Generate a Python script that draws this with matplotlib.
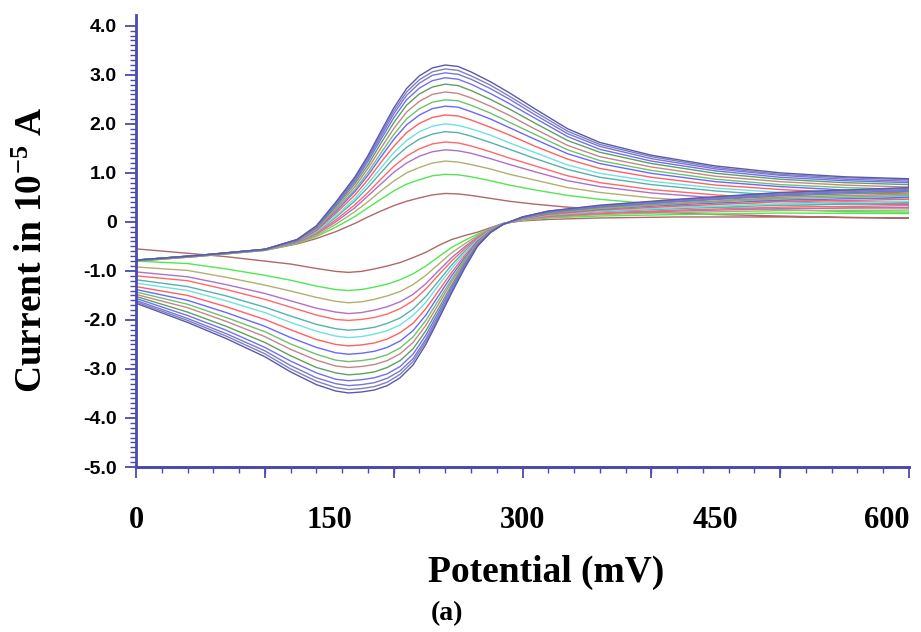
import matplotlib
matplotlib.use("Agg")
import matplotlib.pyplot as plt

plt.rcParams["mathtext.default"] = "regular"

# potential grids (mV) for the forward (anodic) and reverse (cathodic) sweeps
potential_fwd = [0, 50, 100, 125, 140, 155, 170, 180, 190, 200, 210, 220, 230, 240, 250,
                 260, 275, 290, 310, 335, 360, 400, 450, 500, 550, 600]
potential_rev = [600, 500, 420, 360, 320, 300, 285, 275, 265, 255, 245, 235, 225, 215, 205,
                 195, 185, 175, 165, 155, 140, 120, 100, 70, 40, 0]

# current (1e-5 A), one row per scan, slowest scan first
current_fwd = [
    [-0.80, -0.70, -0.58, -0.45, -0.34, -0.20, -0.03, 0.10, 0.22, 0.33, 0.42, 0.49, 0.55, 0.58, 0.57, 0.54, 0.48, 0.42, 0.36, 0.30, 0.26, 0.20, 0.15, 0.12, 0.09, 0.08],
    [-0.80, -0.70, -0.58, -0.44, -0.30, -0.11, 0.11, 0.29, 0.46, 0.63, 0.77, 0.86, 0.94, 0.97, 0.96, 0.92, 0.84, 0.75, 0.65, 0.54, 0.46, 0.37, 0.30, 0.25, 0.21, 0.20],
    [-0.80, -0.70, -0.58, -0.43, -0.28, -0.05, 0.21, 0.41, 0.63, 0.83, 1.00, 1.11, 1.20, 1.24, 1.22, 1.17, 1.08, 0.97, 0.85, 0.70, 0.60, 0.49, 0.40, 0.34, 0.30, 0.28],
    [-0.79, -0.69, -0.57, -0.42, -0.25, 0.00, 0.29, 0.53, 0.77, 1.01, 1.20, 1.34, 1.43, 1.47, 1.45, 1.40, 1.29, 1.17, 1.02, 0.84, 0.72, 0.59, 0.49, 0.42, 0.37, 0.35],
    [-0.79, -0.69, -0.57, -0.41, -0.24, 0.04, 0.35, 0.60, 0.87, 1.13, 1.34, 1.49, 1.59, 1.63, 1.61, 1.55, 1.43, 1.30, 1.14, 0.94, 0.80, 0.66, 0.55, 0.47, 0.42, 0.40],
    [-0.79, -0.69, -0.57, -0.41, -0.22, 0.09, 0.43, 0.70, 1.00, 1.29, 1.52, 1.69, 1.79, 1.84, 1.82, 1.75, 1.62, 1.48, 1.29, 1.07, 0.91, 0.76, 0.63, 0.54, 0.49, 0.46],
    [-0.79, -0.69, -0.57, -0.40, -0.20, 0.12, 0.48, 0.78, 1.10, 1.41, 1.66, 1.84, 1.95, 2.00, 1.97, 1.90, 1.77, 1.61, 1.41, 1.16, 0.99, 0.83, 0.69, 0.60, 0.54, 0.51],
    [-0.79, -0.69, -0.57, -0.40, -0.18, 0.17, 0.55, 0.86, 1.21, 1.54, 1.82, 2.01, 2.13, 2.18, 2.16, 2.08, 1.93, 1.77, 1.54, 1.28, 1.09, 0.91, 0.75, 0.66, 0.60, 0.57],
    [-0.79, -0.69, -0.57, -0.39, -0.16, 0.21, 0.62, 0.95, 1.32, 1.68, 1.98, 2.18, 2.31, 2.36, 2.34, 2.25, 2.10, 1.92, 1.68, 1.39, 1.19, 0.99, 0.82, 0.72, 0.65, 0.62],
    [-0.79, -0.69, -0.57, -0.38, -0.15, 0.24, 0.66, 1.01, 1.40, 1.78, 2.10, 2.31, 2.44, 2.49, 2.47, 2.38, 2.22, 2.03, 1.78, 1.47, 1.25, 1.05, 0.87, 0.76, 0.70, 0.66],
    [-0.78, -0.68, -0.56, -0.38, -0.14, 0.27, 0.72, 1.09, 1.50, 1.90, 2.24, 2.46, 2.60, 2.65, 2.62, 2.53, 2.36, 2.17, 1.89, 1.56, 1.33, 1.12, 0.93, 0.82, 0.75, 0.71],
    [-0.78, -0.68, -0.56, -0.37, -0.12, 0.31, 0.78, 1.16, 1.60, 2.02, 2.38, 2.61, 2.75, 2.81, 2.78, 2.68, 2.50, 2.30, 2.01, 1.66, 1.42, 1.19, 0.99, 0.87, 0.80, 0.76],
    [-0.78, -0.68, -0.56, -0.37, -0.11, 0.34, 0.83, 1.23, 1.68, 2.12, 2.49, 2.73, 2.88, 2.94, 2.91, 2.81, 2.62, 2.41, 2.11, 1.74, 1.48, 1.24, 1.04, 0.91, 0.84, 0.80],
    [-0.78, -0.68, -0.56, -0.37, -0.10, 0.36, 0.86, 1.28, 1.74, 2.20, 2.58, 2.83, 2.99, 3.04, 3.01, 2.91, 2.72, 2.50, 2.18, 1.80, 1.54, 1.29, 1.08, 0.95, 0.87, 0.83],
    [-0.78, -0.68, -0.56, -0.36, -0.09, 0.38, 0.89, 1.31, 1.79, 2.26, 2.65, 2.90, 3.06, 3.12, 3.09, 2.98, 2.79, 2.56, 2.24, 1.85, 1.58, 1.33, 1.11, 0.97, 0.90, 0.86],
    [-0.78, -0.68, -0.56, -0.36, -0.08, 0.40, 0.92, 1.35, 1.84, 2.32, 2.72, 2.98, 3.14, 3.20, 3.17, 3.06, 2.86, 2.63, 2.30, 1.90, 1.62, 1.36, 1.14, 1.00, 0.92, 0.88],
]

current_rev = [
    [0.08, 0.10, 0.10, 0.08, 0.05, 0.02, -0.03, -0.12, -0.21, -0.28, -0.36, -0.48, -0.62, -0.73, -0.83, -0.90, -0.96, -1.01, -1.03, -1.01, -0.95, -0.86, -0.80, -0.71, -0.64, -0.55],
    [0.17, 0.18, 0.15, 0.12, 0.08, 0.03, -0.03, -0.14, -0.25, -0.38, -0.52, -0.71, -0.90, -1.06, -1.18, -1.27, -1.33, -1.38, -1.40, -1.38, -1.31, -1.19, -1.09, -0.96, -0.85, -0.80],
    [0.24, 0.23, 0.19, 0.15, 0.09, 0.04, -0.04, -0.15, -0.28, -0.45, -0.63, -0.86, -1.09, -1.28, -1.42, -1.51, -1.58, -1.63, -1.65, -1.62, -1.54, -1.41, -1.29, -1.13, -0.99, -0.92],
    [0.29, 0.27, 0.22, 0.17, 0.11, 0.05, -0.04, -0.15, -0.31, -0.51, -0.73, -0.99, -1.26, -1.48, -1.63, -1.73, -1.80, -1.85, -1.87, -1.84, -1.76, -1.61, -1.46, -1.28, -1.12, -1.02],
    [0.33, 0.30, 0.24, 0.18, 0.12, 0.05, -0.04, -0.16, -0.33, -0.55, -0.80, -1.08, -1.37, -1.61, -1.77, -1.88, -1.95, -1.99, -2.01, -1.99, -1.90, -1.74, -1.58, -1.38, -1.20, -1.10],
    [0.38, 0.34, 0.27, 0.21, 0.13, 0.06, -0.04, -0.17, -0.35, -0.60, -0.88, -1.20, -1.52, -1.78, -1.96, -2.07, -2.15, -2.19, -2.21, -2.18, -2.09, -1.92, -1.74, -1.51, -1.32, -1.18],
    [0.42, 0.37, 0.29, 0.22, 0.14, 0.06, -0.04, -0.17, -0.37, -0.64, -0.95, -1.29, -1.64, -1.91, -2.10, -2.22, -2.29, -2.34, -2.36, -2.33, -2.23, -2.05, -1.85, -1.61, -1.40, -1.25],
    [0.46, 0.41, 0.32, 0.24, 0.15, 0.07, -0.04, -0.18, -0.39, -0.69, -1.03, -1.40, -1.77, -2.07, -2.26, -2.39, -2.47, -2.51, -2.53, -2.50, -2.40, -2.20, -1.99, -1.73, -1.50, -1.32],
    [0.50, 0.44, 0.35, 0.26, 0.17, 0.07, -0.04, -0.19, -0.41, -0.74, -1.10, -1.50, -1.90, -2.22, -2.43, -2.56, -2.64, -2.68, -2.70, -2.67, -2.56, -2.36, -2.13, -1.85, -1.60, -1.38],
    [0.54, 0.47, 0.37, 0.27, 0.18, 0.08, -0.05, -0.19, -0.43, -0.78, -1.17, -1.59, -2.01, -2.35, -2.57, -2.71, -2.79, -2.83, -2.85, -2.82, -2.70, -2.49, -2.24, -1.95, -1.68, -1.43],
    [0.57, 0.50, 0.38, 0.29, 0.18, 0.08, -0.05, -0.20, -0.44, -0.81, -1.22, -1.67, -2.11, -2.46, -2.69, -2.83, -2.91, -2.95, -2.97, -2.94, -2.82, -2.60, -2.34, -2.03, -1.75, -1.48],
    [0.61, 0.53, 0.41, 0.30, 0.19, 0.09, -0.05, -0.21, -0.46, -0.85, -1.29, -1.76, -2.22, -2.59, -2.83, -2.97, -3.06, -3.10, -3.12, -3.08, -2.97, -2.73, -2.46, -2.13, -1.84, -1.52],
    [0.64, 0.55, 0.42, 0.31, 0.20, 0.09, -0.05, -0.21, -0.47, -0.88, -1.34, -1.83, -2.31, -2.70, -2.95, -3.10, -3.18, -3.22, -3.24, -3.21, -3.08, -2.84, -2.56, -2.21, -1.91, -1.56],
    [0.66, 0.57, 0.44, 0.32, 0.21, 0.10, -0.05, -0.21, -0.48, -0.91, -1.39, -1.89, -2.39, -2.79, -3.04, -3.19, -3.28, -3.32, -3.34, -3.30, -3.18, -2.93, -2.63, -2.28, -1.97, -1.60],
    [0.68, 0.59, 0.45, 0.33, 0.22, 0.10, -0.05, -0.22, -0.49, -0.93, -1.42, -1.94, -2.44, -2.85, -3.11, -3.27, -3.36, -3.40, -3.42, -3.38, -3.25, -3.00, -2.69, -2.33, -2.01, -1.63],
    [0.70, 0.60, 0.46, 0.34, 0.22, 0.10, -0.05, -0.22, -0.50, -0.95, -1.45, -1.98, -2.50, -2.92, -3.18, -3.34, -3.43, -3.47, -3.49, -3.45, -3.32, -3.06, -2.75, -2.38, -2.05, -1.66],
]

scan_colors = ["#b06868", "#50e850", "#b0b070", "#b070c8", "#ff6868", "#58b0b0",
               "#70e0e0", "#ff6060", "#6868ff", "#70c070", "#c08888", "#60a060",
               "#7070f0", "#7878d0", "#8080c0", "#5a5aa8"]

x_ticks = [0, 150, 300, 450, 600]
x_tick_labels = ["0", "150", "300", "450", "600"]
y_ticks = [4, 3, 2, 1, 0, -1, -2, -3, -4, -5]
y_tick_labels = ["4.0", "3.0", "2.0", "1.0", "0", "-1.0", "-2.0", "-3.0", "-4.0", "-5.0"]

axis_color = "#4b4bae"
serif = "Liberation Serif"

fig = plt.figure(figsize=(9.21, 6.32), dpi=100)
ax = fig.add_axes([136 / 921, 1 - 467 / 632, 773 / 921, 452 / 632])

for fwd, rev, color in zip(current_fwd, current_rev, scan_colors):
    ax.plot(potential_fwd + potential_rev, fwd + rev, color=color, lw=1.0)

ax.set_xlim(0, 600)
ax.set_ylim(-5, 4.22)

for side in ("top", "right"):
    ax.spines[side].set_visible(False)
for side in ("left", "bottom"):
    ax.spines[side].set_color(axis_color)
    ax.spines[side].set_linewidth(2.0)

# y axis ticks
ax.set_yticks(y_ticks, y_tick_labels)
ax.set_yticks([v / 10 for v in range(-50, 41)], minor=True)
ax.tick_params(axis="y", which="major", length=8, width=1.3, color=axis_color, pad=6)
ax.tick_params(axis="y", which="minor", length=4, width=1.0, color=axis_color)
for lab in ax.get_yticklabels():
    lab.set_fontfamily("Liberation Sans")
    lab.set_fontweight("bold")
    lab.set_fontsize(14)

# x axis: labels every 150, short ticks every 20, long ticks every 100
ax.set_xticks(x_ticks, x_tick_labels)
ax.set_xticks(range(0, 601, 20), minor=True)
ax.tick_params(axis="x", which="major", length=0, pad=28)
ax.tick_params(axis="x", which="minor", length=4, width=1.0, color=axis_color)
for lab in ax.get_xticklabels():
    lab.set_fontfamily(serif)
    lab.set_fontweight("bold")
    lab.set_fontsize(22)
ax.get_xticklabels()[-1].set_horizontalalignment("right")

sec = ax.secondary_xaxis("bottom")
sec.set_xticks(range(0, 601, 100))
sec.tick_params(length=8, width=1.3, color=axis_color, labelbottom=False)
sec.spines["bottom"].set_color(axis_color)
sec.spines["bottom"].set_linewidth(2.0)

ax.set_xlabel("Potential (mV)", fontfamily=serif, fontweight="bold", fontsize=27)
ax.xaxis.set_label_coords(0.53, -0.195)
ax.set_ylabel("Current in 10$^{-5}$ A", fontfamily=serif, fontweight="bold", fontsize=27)
ax.yaxis.set_label_coords(-0.111, 0.48)

fig.text(447 / 921, 1 - 614 / 632, "(a)", ha="center", va="center",
         fontfamily=serif, fontweight="bold", fontsize=20)

fig.savefig("out.png", dpi=100)
